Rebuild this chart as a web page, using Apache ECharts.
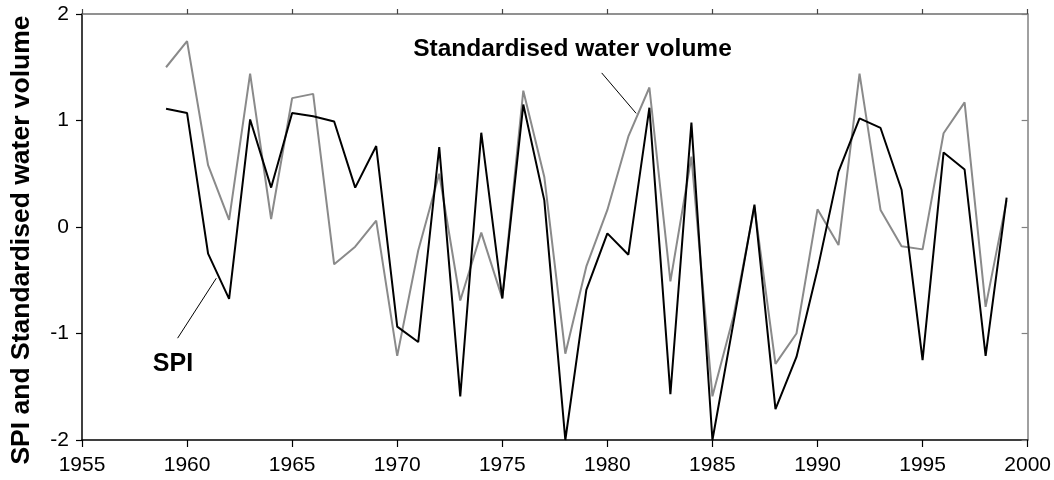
<!DOCTYPE html>
<html>
<head>
<meta charset="utf-8">
<script src="https://cdn.jsdelivr.net/npm/echarts@6/dist/echarts.min.js"></script>
<style>
html,body{margin:0;padding:0;background:#fff;}
#chart{width:1054px;height:480px;}
</style>
</head>
<body>
<div id="chart"></div>
<script>
const years = [1959,1960,1961,1962,1963,1964,1965,1966,1967,1968,1969,1970,1971,1972,1973,1974,1975,1976,1977,1978,1979,1980,1981,1982,1983,1984,1985,1986,1987,1988,1989,1990,1991,1992,1993,1994,1995,1996,1997,1998,1999];
const spi = [1.11,1.07,-0.25,-0.675,1.01,0.37,1.07,1.04,0.99,0.37,0.76,-0.935,-1.08,0.75,-1.59,0.885,-0.67,1.15,0.25,-2.0,-0.59,-0.06,-0.26,1.12,-1.57,0.98,-2.0,-0.90,0.21,-1.71,-1.22,-0.40,0.52,1.02,0.93,0.35,-1.25,0.70,0.54,-1.21,0.275];
const waterVolume = [1.50,1.745,0.58,0.066,1.44,0.075,1.21,1.25,-0.35,-0.185,0.06,-1.21,-0.22,0.50,-0.69,-0.053,-0.67,1.28,0.47,-1.19,-0.37,0.16,0.85,1.31,-0.51,0.66,-1.59,-0.84,0.19,-1.285,-1.00,0.166,-0.17,1.44,0.16,-0.18,-0.21,0.88,1.17,-0.75,0.25];
const xTicks = [1955,1960,1965,1970,1975,1980,1985,1990,1995,2000];
const yTicks = [-2,-1,0,1,2];
const yTitle = 'SPI and Standardised water volume';
const labelSpi = 'SPI';
const labelWater = 'Standardised water volume';

const FONT = '"Liberation Sans", Arial, sans-serif';
const chart = echarts.init(document.getElementById('chart'), null, {renderer:'canvas'});

const pair = (xs, ys) => xs.map((x,i)=>[x, ys[i]]);

const option = {
  animation: false,
  backgroundColor: '#fff',
  grid: {left: 82, right: 25, top: 14, bottom: 40, containLabel: false},
  xAxis: [
    {type:'value', min: xTicks[0], max: xTicks[xTicks.length-1], interval: 5, position:'bottom',
     axisLine:{show:true, onZero:false, lineStyle:{color:'#000', width:1.5}},
     axisTick:{show:true, inside:false, length:7, lineStyle:{color:'#000', width:1.2}},
     axisLabel:{color:'#000', fontFamily:FONT, fontSize:21, margin:15, formatter: v=>String(v)},
     splitLine:{show:false}},
    {type:'value', min: xTicks[0], max: xTicks[xTicks.length-1], interval: 5, position:'top',
     axisLine:{show:true, onZero:false, lineStyle:{color:'#6e6e6e', width:1.5}},
     axisTick:{show:true, inside:false, length:5, lineStyle:{color:'#444', width:1.2}},
     axisLabel:{show:false}, splitLine:{show:false}}
  ],
  yAxis: [
    {type:'value', min: yTicks[0], max: yTicks[yTicks.length-1], interval: 1, position:'left',
     axisLine:{show:true, onZero:false, lineStyle:{color:'#000', width:1.5}},
     axisTick:{show:true, inside:false, length:6, lineStyle:{color:'#000', width:1.2}},
     axisLabel:{color:'#000', fontFamily:FONT, fontSize:21, margin:13},
     splitLine:{show:false}},
    {type:'value', min: yTicks[0], max: yTicks[yTicks.length-1], interval: 1, position:'right',
     axisLine:{show:true, onZero:false, lineStyle:{color:'#808080', width:1.5}},
     axisTick:{show:true, inside:true, length:6, lineStyle:{color:'#808080', width:1.2}},
     axisLabel:{show:false}, splitLine:{show:false}}
  ],
  graphic: [
    {type:'text', x:22, y:240, rotation: Math.PI/2,
     style:{text: yTitle, font:'bold 26.5px ' + FONT, fill:'#000', align:'center', verticalAlign:'middle'}}
  ],
  series: [
    {type:'line', name: labelWater, xAxisIndex:0, yAxisIndex:0, data: pair(years, waterVolume),
     showSymbol:false, symbol:'none', lineStyle:{color:'#8a8a8a', width:2}, z:2,
     markLine:{silent:true, symbol:['none','none'], label:{show:false},
       lineStyle:{color:'#000', width:1, type:'solid'},
       data:[[{coord:[1979.73,1.447]},{coord:[1981.37,1.067]}]]},
     markPoint:{silent:true, symbol:'circle', symbolSize:0,
       label:{show:true, position:'inside', formatter: labelWater, color:'#000', fontFamily:FONT, fontWeight:'bold', fontSize:24.5},
       data:[{coord:[1978.34,1.67], value:0}]}
    },
    {type:'line', name: labelSpi, xAxisIndex:0, yAxisIndex:0, data: pair(years, spi),
     showSymbol:false, symbol:'none', lineStyle:{color:'#000', width:2}, z:3,
     markLine:{silent:true, symbol:['none','none'], label:{show:false},
       lineStyle:{color:'#000', width:1, type:'solid'},
       data:[[{coord:[1959.55,-1.044]},{coord:[1961.39,-0.481]}]]},
     markPoint:{silent:true, symbol:'circle', symbolSize:0,
       label:{show:true, position:'inside', formatter: labelSpi, color:'#000', fontFamily:FONT, fontWeight:'bold', fontSize:25},
       data:[{coord:[1959.33,-1.29], value:0}]}
    }
  ]
};
chart.setOption(option);
</script>
</body>
</html>
